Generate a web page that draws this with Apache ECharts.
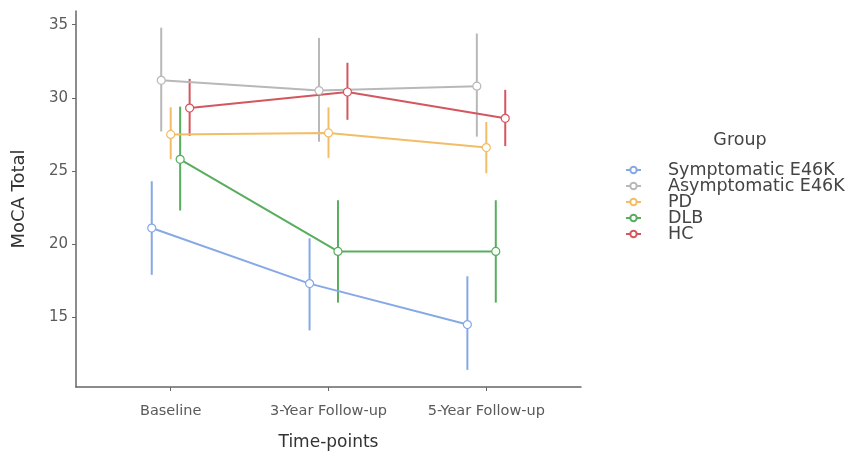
<!DOCTYPE html>
<html>
<head>
<meta charset="utf-8">
<script src="https://cdn.jsdelivr.net/npm/echarts@6/dist/echarts.min.js"></script>
<style>html,body{margin:0;padding:0;background:#fff;}#c{width:866px;height:454px;}</style>
</head>
<body>
<div id="c"></div>
<script>
var timepoints = ['Baseline', '3-Year Follow-up', '5-Year Follow-up'];
var groups = ['Symptomatic E46K', 'Asymptomatic E46K', 'PD', 'DLB', 'HC'];
var yTicks = [15, 20, 25, 30, 35];

// mean MoCA per group at each time-point
var symptomaticMean  = [21.1, 17.3, 14.5];
var asymptomaticMean = [31.2, 30.5, 30.8];
var pdMean           = [27.5, 27.6, 26.6];
var dlbMean          = [25.8, 19.5, 19.5];
var hcMean           = [29.3, 30.4, 28.6];

// error bar lower / upper
var symptomaticLow  = [17.9, 14.1, 11.4];
var symptomaticHigh = [24.3, 20.4, 17.8];
var asymptomaticLow  = [27.7, 27.0, 27.35];
var asymptomaticHigh = [34.8, 34.1, 34.4];
var pdLow  = [25.8, 25.9, 24.85];
var pdHigh = [29.35, 29.35, 28.35];
var dlbLow  = [22.3, 16.0, 16.0];
var dlbHigh = [29.4, 23.0, 23.0];
var hcLow  = [27.4, 28.5, 26.7];
var hcHigh = [31.3, 32.4, 30.55];

var means = [symptomaticMean, asymptomaticMean, pdMean, dlbMean, hcMean];
var lows = [symptomaticLow, asymptomaticLow, pdLow, dlbLow, hcLow];
var highs = [symptomaticHigh, asymptomaticHigh, pdHigh, dlbHigh, hcHigh];
var colors = ['#86a9e6', '#b8b8b8', '#f2bd66', '#58ad5e', '#d4565e'];
var dodge = 0.24;

function offsetOf(gi) { return -dodge / 2 + gi * dodge / (groups.length - 1); }

var series = [];
groups.forEach(function (g, gi) {
  var off = offsetOf(gi);
  series.push({
    name: g, type: 'line', z: 3,
    data: means[gi].map(function (v, ti) { return [ti + 1 + off, v]; }),
    symbol: 'circle', symbolSize: 8,
    itemStyle: { color: '#fff', borderColor: colors[gi], borderWidth: 1.2 },
    lineStyle: { color: colors[gi], width: 2 },
    animation: false
  });
});
groups.forEach(function (g, gi) {
  var off = offsetOf(gi);
  series.push({
    name: g, type: 'custom', z: 2, silent: true,
    data: means[gi].map(function (v, ti) { return [ti + 1 + off, lows[gi][ti], highs[gi][ti]]; }),
    renderItem: function (params, api) {
      var p1 = api.coord([api.value(0), api.value(1)]);
      var p2 = api.coord([api.value(0), api.value(2)]);
      return { type: 'line', shape: { x1: p1[0], y1: p1[1], x2: p2[0], y2: p2[1] },
               style: { stroke: colors[gi], lineWidth: 2 } };
    }
  });
});

var chart = echarts.init(document.getElementById('c'), null, { renderer: 'canvas' });
chart.setOption({
  animation: false,
  backgroundColor: '#fff',
  color: colors,
  grid: { left: 76, top: 11, width: 505, height: 376, containLabel: false, outerBoundsMode: 'none' },
  xAxis: {
    type: 'value', min: 0.4, max: 3.6,
    name: 'Time-points', nameLocation: 'middle', nameGap: 47,
    nameTextStyle: { fontFamily: 'DejaVu Sans', fontSize: 17, color: '#333' },
    axisLine: { show: true, lineStyle: { color: '#666', width: 1.5 } },
    axisTick: { show: true, length: 4, lineStyle: { color: '#666' }, customValues: [1, 2, 3] },
    axisLabel: { customValues: [1, 2, 3], margin: 17, fontFamily: 'DejaVu Sans', fontSize: 14.5, color: '#5a5a5a',
      formatter: function (v) { return timepoints[Math.round(v) - 1]; } },
    splitLine: { show: false }
  },
  yAxis: {
    type: 'value', min: 10.23, max: 35.94,
    name: 'MoCA Total', nameLocation: 'middle', nameGap: 48, nameRotate: 90,
    nameTextStyle: { fontFamily: 'DejaVu Sans', fontSize: 18, color: '#333' },
    axisLine: { show: true, lineStyle: { color: '#666', width: 1.5 } },
    axisTick: { show: true, length: 4, lineStyle: { color: '#666' }, customValues: yTicks },
    axisLabel: { customValues: yTicks, margin: 8, fontFamily: 'DejaVu Sans', fontSize: 15, color: '#5a5a5a' },
    splitLine: { show: false }
  },
  legend: {
    data: groups, orient: 'vertical', left: 620, top: 156,
    itemWidth: 15, itemHeight: 8, itemGap: -2,
    textStyle: { fontFamily: 'DejaVu Sans', fontSize: 17.5, color: '#444', padding: [0, 0, 0, 22] },
    selectedMode: false
  },
  graphic: [{
    type: 'text', x: 740, y: 140,
    style: { text: 'Group', fontFamily: 'DejaVu Sans', fontSize: 17.5, fill: '#444', textAlign: 'center', textVerticalAlign: 'middle' }
  }],
  series: series
});
</script>
</body>
</html>
